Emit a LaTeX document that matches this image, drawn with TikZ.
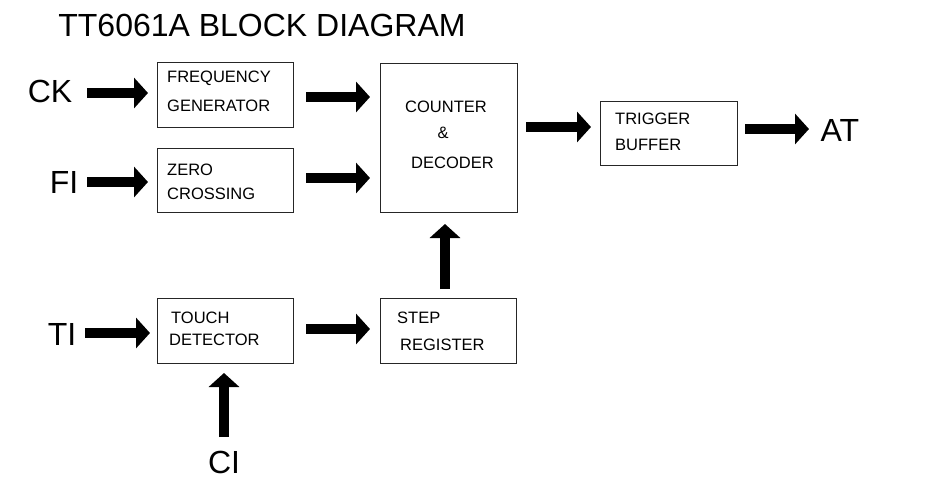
\documentclass[tikz,border=0pt]{standalone}
\usepackage{fontspec}
\setmainfont{Liberation Sans}
\usetikzlibrary{arrows.meta}
\begin{document}
\begin{tikzpicture}[x=1pt,y=-1pt,
  box/.style={draw=black!85, line width=0.9pt, inner sep=0pt},
  btext/.style={anchor=west, inner sep=0pt, font=\fontsize{16.5}{20}\selectfont},
  big/.style={inner sep=0pt, font=\fontsize{32}{38}\selectfont},
  fat/.style={line width=10.5pt, -{Triangle[length=14pt 0 0,width=30pt 0 0]}}]
\useasboundingbox[fill=white] (0,0) rectangle (938,501);
% title
\node[big] (title) at (262,25) {TT6061A BLOCK DIAGRAM};
% boxes
\node[box, minimum width=136pt, minimum height=65pt] (fg) at (225,94.5) {};
\node[box, minimum width=136pt, minimum height=64pt] (zc) at (225,180) {};
\node[box, minimum width=137pt, minimum height=149pt] (cd) at (448.5,137.5) {};
\node[box, minimum width=137pt, minimum height=64pt] (tb) at (668.5,133) {};
\node[box, minimum width=136pt, minimum height=65pt] (td) at (225,330.5) {};
\node[box, minimum width=136pt, minimum height=65pt] (sr) at (448,330.5) {};
% box texts
\node[btext] (t1) at (167,78) {FREQUENCY};
\node[btext] (t2) at (167,106) {GENERATOR};
\node[btext] (t3) at (167,170) {ZERO};
\node[btext] (t4) at (167,194) {CROSSING};
\node[btext] (t5) at (405,107) {COUNTER};
\node[btext, anchor=center] (t6) at (443,133) {\&};
\node[btext] (t7) at (411,163) {DECODER};
\node[btext] (t8) at (615,119) {TRIGGER};
\node[btext] (t9) at (615,145) {BUFFER};
\node[btext] (t10) at (171,318) {TOUCH};
\node[btext] (t11) at (169,340) {DETECTOR};
\node[btext] (t12) at (397,318) {STEP};
\node[btext] (t13) at (400,345) {REGISTER};
% external labels
\node[big] (ck) at (50,91) {CK};
\node[big] (fi) at (64,182) {FI};
\node[big] (ti) at (62,334) {TI};
\node[big] (ci) at (224,462) {CI};
\node[big] (at) at (840,130) {AT};
% arrow endpoints
\coordinate (a1s) at (87,93);   \coordinate (a1e) at (148,93);
\coordinate (a2s) at (87,182);  \coordinate (a2e) at (148,182);
\coordinate (a3s) at (306,97);  \coordinate (a3e) at (370,97);
\coordinate (a4s) at (306,178); \coordinate (a4e) at (370,178);
\coordinate (a5s) at (526,127); \coordinate (a5e) at (591,127);
\coordinate (a6s) at (745,129); \coordinate (a6e) at (809,129);
\coordinate (a7s) at (85,333);  \coordinate (a7e) at (150,333);
\coordinate (a8s) at (306,329); \coordinate (a8e) at (370,329);
\coordinate (a9s) at (445,289); \coordinate (a9e) at (445,224);
\coordinate (a10s) at (224,437); \coordinate (a10e) at (224,373);
\foreach \i in {1,...,10}{\draw[fat] (a\i s) -- (a\i e);}
\end{tikzpicture}
\end{document}
